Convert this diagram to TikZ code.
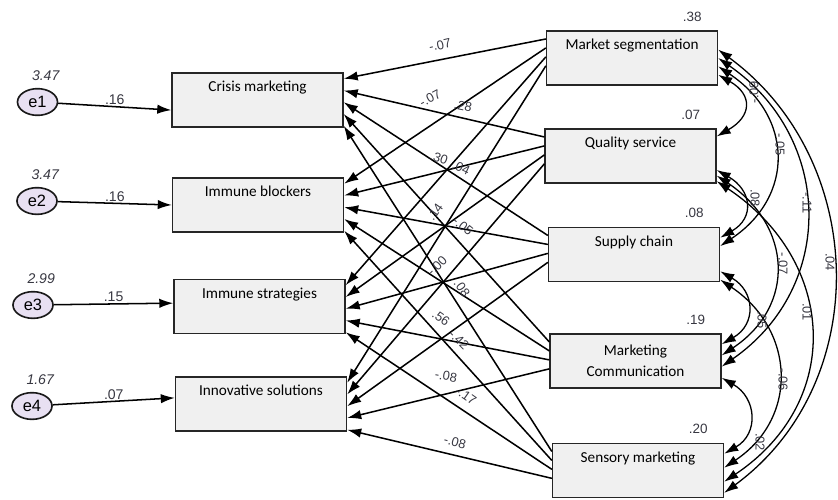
\documentclass[tikz,border=0pt]{standalone}
\usepackage{fontspec}
\setmainfont{Carlito}
\newfontfamily\numfont{Liberation Sans}
\usepackage{tikz}
\usetikzlibrary{arrows.meta,positioning,calc,shapes.geometric}
\definecolor{errfill}{RGB}{232,224,242}
\definecolor{labgray}{RGB}{55,55,65}
\tikzstyle{obs}=[draw=black!85,line width=1.4pt,fill=black!6,minimum width=5.12cm,minimum height=1.63cm,align=center,inner sep=0pt,font=\fontsize{13}{18}\selectfont]
\tikzstyle{err}=[ellipse,draw=black!90,line width=1.4pt,fill=errfill,minimum width=1.2cm,minimum height=0.8cm,inner sep=0pt,font=\numfont\fontsize{14}{14}\selectfont]
\tikzstyle{regpath}=[line width=1.3pt,-{Latex[length=12pt,width=8pt]}]
\tikzstyle{cov}=[line width=1.1pt,{Latex[length=12pt,width=8pt]}-{Latex[length=12pt,width=8pt]}]
\tikzstyle{coef}=[font=\numfont\fontsize{11}{11}\selectfont,text=labgray,inner sep=1pt]
\tikzstyle{rsq}=[font=\numfont\fontsize{11.5}{12}\selectfont,text=labgray,inner sep=0pt]
\tikzstyle{var}=[font=\numfont\itshape\fontsize{12}{12}\selectfont,text=labgray,inner sep=0pt]

\begin{document}
\begin{tikzpicture}[x=0.03cm,y=-0.03cm]
\useasboundingbox (0,0) rectangle (838,499);

% dependent side
\node[obs] (cm) at (257.5,100) {Crisis marketing\\\strut};
\node[obs] (ib) at (258,205) {Immune blockers\\\strut};
\node[obs] (is) at (259.5,306.5) {Immune strategies\\\strut};
\node[obs] (isol) at (261,404) {Innovative solutions\\\strut};

% predictors
\node[obs] (ms) at (632,58) {Market segmentation\\\strut};
\node[obs] (qs) at (630.5,156) {Quality service\\\strut};
\node[obs] (sc) at (634,254.5) {Supply chain\\\strut};
\node[obs] (mc) at (635.5,361) {Marketing\\Communication};
\node[obs] (ss) at (638,470.5) {Sensory marketing\\\strut};

\node[rsq, above left=7pt and 14pt of ms.north east] (r1) {.38};
\node[rsq, above left=7pt and 14pt of qs.north east] (r2) {.07};
\node[rsq, above left=7pt and 14pt of sc.north east] (r3) {.08};
\node[rsq, above left=7pt and 14pt of mc.north east] (r4) {.19};
\node[rsq, above left=7pt and 14pt of ss.north east] (r5) {.20};

% error terms
\node[err] (e1) at (37.5,102) {e1};
\node[err] (e2) at (37,201) {e2};
\node[err] (e3) at (33,305) {e3};
\node[err] (e4) at (32,406) {e4};

\foreach \e/\v/\b/\f/\w in {e1/3.47/cm/.68/.16, e2/3.47/ib/.5/.16, e3/2.99/is/.44/.15, e4/1.67/isol/.39/.07}{
  \node[var, above=6pt of \e.north, xshift=7pt] (v-\e) {\v};
  \draw[regpath] (\e) -- node[coef, above, font=\numfont\fontsize{12}{12}\selectfont] (w-\e) {\w} ($(\b.north west)!\f!(\b.south west)$);
}

% regression paths
\foreach \r [count=\k] in {ms,qs,sc,mc,ss}
  \foreach \l [count=\j] in {cm,ib,is,isol}
    \draw[regpath] ($(\r.north west)!{0.16*\j}!(\r.south west)$) -- ($(\l.north east)!{0.12+0.21*(\k-1)}!(\l.south east)$);

\node[coef, rotate=13] (p1) at (440,45) {-.07};
\node[coef, rotate=28] (p2) at (430,98) {-.07};
\node[coef, rotate=-12] (p3) at (463,106) {.28};
\node[coef, rotate=-20] (p4) at (439,158) {.30};
\node[coef, rotate=-25] (p5) at (461,168) {.04};
\node[coef, rotate=55] (p6) at (435,212) {.14};
\node[coef, rotate=-40] (p7) at (463,226) {-.05};
\node[coef, rotate=45] (p8) at (437,266) {-.00};
\node[coef, rotate=-55] (p9) at (462,288) {.08};
\node[coef, rotate=-35] (p10) at (441,318) {.56};
\node[coef, rotate=-45] (p11) at (459,340) {-.42};
\node[coef, rotate=-10] (p12) at (446,376) {-.08};
\node[coef, rotate=-35] (p13) at (466,396) {-.17};
\node[coef, rotate=-15] (p14) at (455,442) {-.08};

% covariances
\draw[cov] ($(ms.north east)!.80!(ms.south east)$) .. controls +(35,20) and +(35,-20) .. ($(qs.north east)!.15!(qs.south east)$);
\draw[cov] ($(qs.north east)!.75!(qs.south east)$) .. controls +(35,20) and +(35,-20) .. ($(sc.north east)!.20!(sc.south east)$);
\draw[cov] ($(sc.north east)!.80!(sc.south east)$) .. controls +(35,20) and +(35,-20) .. ($(mc.north east)!.20!(mc.south east)$);
\draw[cov] ($(mc.north east)!.80!(mc.south east)$) .. controls +(35,20) and +(35,-20) .. ($(ss.north east)!.20!(ss.south east)$);
\draw[cov] ($(ms.north east)!.65!(ms.south east)$) .. controls +(75,50) and +(75,-50) .. ($(sc.north east)!.35!(sc.south east)$);
\draw[cov] ($(qs.north east)!.85!(qs.south east)$) .. controls +(75,50) and +(75,-50) .. ($(mc.north east)!.40!(mc.south east)$);
\draw[cov] ($(sc.north east)!.95!(sc.south east)$) .. controls +(75,50) and +(75,-50) .. ($(ss.north east)!.45!(ss.south east)$);
\draw[cov] ($(ms.north east)!.50!(ms.south east)$) .. controls +(115,80) and +(115,-80) .. ($(mc.north east)!.60!(mc.south east)$);
\draw[cov] ($(qs.north east)!.95!(qs.south east)$) .. controls +(120,80) and +(120,-80) .. ($(ss.north east)!.70!(ss.south east)$);
\draw[cov] ($(ms.north east)!.35!(ms.south east)$) .. controls +(150,110) and +(150,-110) .. ($(ss.north east)!.90!(ss.south east)$);

\node[coef, rotate=90] (c1) at (754,92) {-.09};
\node[coef, rotate=-90] (c2) at (780,145) {-.05};
\node[coef, rotate=-90] (c3) at (755,198) {.08};
\node[coef, rotate=-90] (c4) at (807,203) {-.11};
\node[coef, rotate=-90] (c5) at (783,264) {-.07};
\node[coef, rotate=-90] (c6) at (830,262) {.04};
\node[coef, rotate=-90] (c7) at (762,320) {.05};
\node[coef, rotate=-90] (c8) at (807,312) {.01};
\node[coef, rotate=-90] (c9) at (783,380) {-.06};
\node[coef, rotate=-90] (c10) at (760,442) {.02};
\end{tikzpicture}
\end{document}
